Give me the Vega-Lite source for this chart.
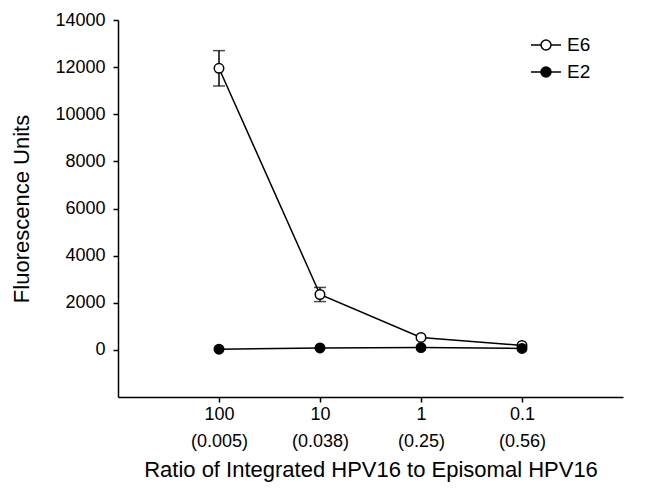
{
  "$schema": "https://vega.github.io/schema/vega-lite/v6.json",
  "autosize": "none",
  "width": 505,
  "height": 377,
  "padding": {"left": 118, "top": 20, "right": 27, "bottom": 104},
  "background": "white",
  "config": {
    "font": "Liberation Sans",
    "view": {"stroke": null},
    "axis": {"grid": false, "domainColor": "black", "tickColor": "black", "labelColor": "black", "titleColor": "black", "domainWidth": 1.5, "tickWidth": 1.5, "tickSize": 5, "labelFontSize": 18, "titleFontSize": 22, "titleFontWeight": "normal"}
  },
  "data": {
    "values": [
      {"x": 1, "series": "E6", "value": 11950, "lo": 11200, "hi": 12700},
      {"x": 2, "series": "E6", "value": 2350, "lo": 2050, "hi": 2650},
      {"x": 3, "series": "E6", "value": 530},
      {"x": 4, "series": "E6", "value": 190},
      {"x": 1, "series": "E2", "value": 30},
      {"x": 2, "series": "E2", "value": 80},
      {"x": 3, "series": "E2", "value": 100},
      {"x": 4, "series": "E2", "value": 60}
    ]
  },
  "encoding": {
    "x": {
      "field": "x", "type": "quantitative",
      "scale": {"domain": [0, 5], "nice": false, "zero": false},
      "axis": {
        "values": [1, 2, 3, 4],
        "title": "Ratio of Integrated HPV16 to Episomal HPV16",
        "labelExpr": "datum.value == 1 ? ['100', '(0.005)'] : datum.value == 2 ? ['10', '(0.038)'] : datum.value == 3 ? ['1', '(0.25)'] : ['0.1', '(0.56)']",
        "labelLineHeight": 27,
        "labelPadding": 3,
        "titlePadding": 9
      }
    }
  },
  "layer": [
    {
      "transform": [{"filter": "isValid(datum.lo)"}],
      "mark": {"type": "errorbar", "ticks": {"size": 12, "color": "black", "thickness": 1.5}, "rule": {"color": "black", "strokeWidth": 1.5}},
      "encoding": {
        "y": {"field": "lo", "type": "quantitative", "title": "Fluorescence Units"},
        "y2": {"field": "hi"}
      }
    },
    {
      "mark": {"type": "line", "color": "black", "strokeWidth": 1.5},
      "encoding": {
        "y": {"field": "value", "type": "quantitative", "title": "Fluorescence Units"},
        "detail": {"field": "series"}
      }
    },
    {
      "mark": {"type": "point", "shape": "circle", "size": 90, "stroke": "black", "strokeWidth": 1.5, "opacity": 1, "filled": false},
      "encoding": {
        "y": {
          "field": "value", "type": "quantitative",
          "title": "Fluorescence Units",
          "scale": {"domain": [-2000, 14000], "nice": false},
          "axis": {"values": [0, 2000, 4000, 6000, 8000, 10000, 12000, 14000], "format": "d", "labelPadding": 8, "titlePadding": 21}
        },
        "fill": {
          "field": "series", "type": "nominal",
          "scale": {"domain": ["E6", "E2"], "range": ["white", "black"]},
          "legend": {
            "title": null,
            "orient": "none",
            "legendX": 412,
            "legendY": 9,
            "symbolType": "M-1,0H-0.33M0.33,0H1M0.33,0A0.33,0.33,0,1,1,-0.33,0A0.33,0.33,0,1,1,0.33,0Z",
            "symbolSize": 900,
            "symbolStrokeColor": "black",
            "symbolStrokeWidth": 1.5,
            "labelFontSize": 19,
            "labelColor": "black",
            "labelOffset": 5,
            "rowPadding": 1
          }
        }
      }
    }
  ]
}
